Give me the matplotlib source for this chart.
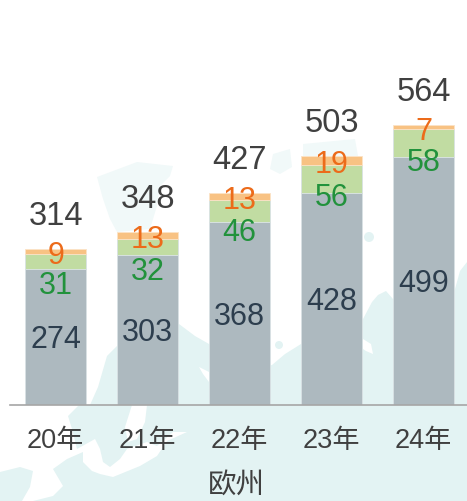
# -*- coding: utf-8 -*-
import matplotlib
matplotlib.use('Agg')
import matplotlib.pyplot as plt
from matplotlib.patches import Polygon, Circle

plt.rcParams['font.family'] = ['Liberation Sans', 'Noto Sans CJK SC']

years = ['20年', '21年', '22年', '23年', '24年']
gray_vals = [274, 303, 368, 428, 499]
green_vals = [31, 32, 46, 56, 58]
orange_vals = [9, 13, 13, 19, 7]
totals = [314, 348, 427, 503, 564]
region = '欧州'

# how far the green numbers sit below the middle of their segment (pixels)
green_drop = [21, 22, 19, 16, 16]

# background map, rough outlines in pixels
sea = '#e3f3f3'
pale = '#f1f9f9'
land_main = [(90, 406), (98, 388), (107, 357), (117, 347), (135, 335), (165, 330), (179, 325),
             (195, 337), (209, 345), (240, 372), (272, 366), (285, 355), (301, 345), (330, 335),
             (363, 320), (372, 303), (378, 296), (386, 292), (393, 300), (430, 300), (455, 290),
             (460, 272), (467, 263), (467, 502), (0, 502), (0, 406)]
white_west = [(0, 405), (80, 405), (68, 417), (72, 430), (77, 450), (95, 440), (100, 450), (103, 463),
              (110, 468), (120, 460), (127, 450), (147, 443), (157, 447), (173, 433), (187, 433),
              (167, 442), (157, 457), (140, 467), (113, 478), (100, 475), (92, 472), (83, 463),
              (83, 453), (67, 460), (53, 470), (63, 487), (53, 497), (33, 502), (22, 502), (30, 488),
              (33, 472), (20, 468), (0, 473)]
white_island = [(132, 406), (147, 406), (145, 423), (137, 440), (128, 443), (125, 428)]
white_notch = [(199, 368), (209, 373), (209, 383), (203, 375)]
white_notch2 = [(363, 340), (371, 345), (373, 355), (366, 352), (363, 350)]
svalbard = [(97, 178), (137, 163), (173, 167), (170, 177), (160, 187), (157, 207), (150, 230),
            (117, 233), (110, 220), (103, 200)]
islands = [[(273, 155), (290, 150), (292, 168), (280, 175), (270, 170)],
           [(303, 145), (355, 140), (358, 157), (303, 157)]]

fig = plt.figure(figsize=(4.67, 5.02), dpi=100)
bg = fig.add_axes([0, 0, 1, 1])
bg.set_xlim(0, 467)
bg.set_ylim(502, 0)
bg.axis('off')
bg.add_patch(Polygon(land_main, closed=True, fc=sea, ec='none'))
for shape in [white_west, white_island, white_notch, white_notch2]:
    bg.add_patch(Polygon(shape, closed=True, fc='white', ec='none'))
bg.add_patch(Polygon(svalbard, closed=True, fc=pale, ec='none'))
for shape in islands:
    bg.add_patch(Polygon(shape, closed=True, fc=pale, ec='none'))
bg.add_patch(Circle((369, 238), 5, fc=sea, ec='none'))
bg.add_patch(Circle((279, 346), 4, fc=sea, ec='none'))

# chart axes: 92 px between bars, about 0.495 px per unit
ax = fig.add_axes([10 / 467, (502 - 405.5) / 502, 457 / 467, 405.5 / 502])
ax.patch.set_alpha(0)
ax.set_xlim(-0.496, 4.471)
ax.set_ylim(0, 405.5 / 0.495)

x = range(len(years))
bar_w = 61 / 92
edge = '#d9e2e4'
bottom2 = [a + b for a, b in zip(gray_vals, green_vals)]
ax.bar(x, gray_vals, bar_w, color='#adb9bf', edgecolor=edge, linewidth=0.6)
ax.bar(x, green_vals, bar_w, bottom=gray_vals, color='#c1dca2', edgecolor=edge, linewidth=0.6)
ax.bar(x, orange_vals, bar_w, bottom=bottom2, color='#f8c283', edgecolor='#fbe3c6', linewidth=0.6)

px = 0.72  # pixels to points at dpi 100
nudge = 2.5  # text box centre sits a bit above the digit centre
for i in x:
    ax.annotate(str(gray_vals[i]), (i, gray_vals[i] / 2), xytext=(0, -nudge * px), textcoords='offset points',
                ha='center', va='center', fontsize=22, color='#2d3e4e')
    ax.annotate(str(green_vals[i]), (i, gray_vals[i] + green_vals[i] / 2),
                xytext=(0, -(green_drop[i] + nudge) * px), textcoords='offset points',
                ha='center', va='center', fontsize=22, color='#22923c')
    ax.annotate(str(orange_vals[i]), (i, bottom2[i] + orange_vals[i] / 2),
                xytext=(0, -(1 + nudge) * px), textcoords='offset points',
                ha='center', va='center', fontsize=22, color='#ec6b1a')
    ax.annotate(str(totals[i]), (i, totals[i]), xytext=(0, (36 - nudge) * px), textcoords='offset points',
                ha='center', va='center', fontsize=23.5, color='#404040')

for s in ['top', 'left', 'right']:
    ax.spines[s].set_visible(False)
ax.spines['bottom'].set_color('#a6a6a6')
ax.spines['bottom'].set_linewidth(1.2)
ax.set_yticks([])
ax.set_xticks(list(x))
ax.set_xticklabels(years, fontsize=19.5, color='#404040')
ax.tick_params(axis='x', length=0, pad=16)
ax.set_xlabel(region, fontsize=20.5, color='#404040', labelpad=14, x=0.495)

fig.savefig('out.png', dpi=100)
